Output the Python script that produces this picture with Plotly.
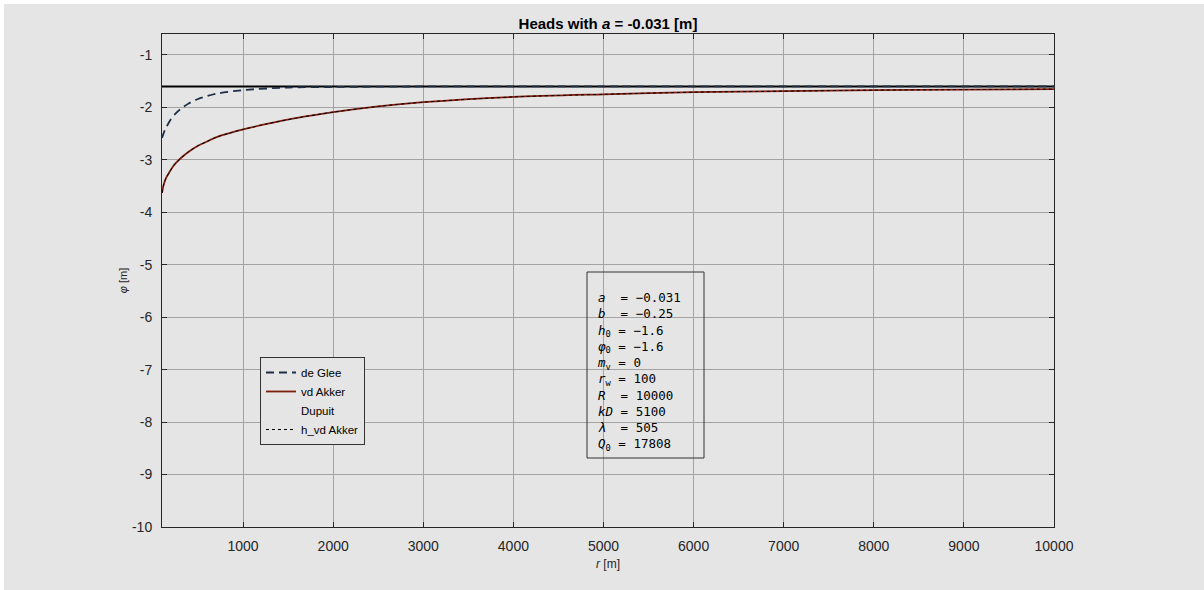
import plotly.graph_objects as go

# ---------------- data ----------------
r_glee = [100, 125, 150, 200, 250, 300, 400, 500, 700, 1000, 1500, 2000, 3000, 5000, 10000]
phi_glee = [-2.58, -2.46, -2.37, -2.22, -2.12, -2.04, -1.92, -1.84, -1.74, -1.67, -1.62, -1.61, -1.60, -1.60, -1.60]

r_akker = [100, 115, 130, 150, 180, 220, 260, 320, 400, 500, 600, 700, 850, 1000, 1250,
           1600, 2000, 2500, 3000, 4000, 5000, 6000, 7000, 8000, 9000, 10000]
phi_akker = [-3.63, -3.50, -3.41, -3.33, -3.24, -3.13, -3.05, -2.95, -2.84, -2.73, -2.65, -2.57, -2.49, -2.42, -2.32,
             -2.20, -2.09, -1.98, -1.90, -1.80, -1.75, -1.71, -1.69, -1.67, -1.66, -1.65]

r_h_akker = r_akker
phi_h_akker = phi_akker

r_h0 = [100, 10000]
phi_h0 = [-1.6, -1.6]

# Dupuit is drawn without a visible line in the reference
r_dupuit = [100, 10000]
phi_dupuit = [-1.6, -1.6]

x_ticks = [1000, 2000, 3000, 4000, 5000, 6000, 7000, 8000, 9000, 10000]
x_ticktext = ["1000", "2000", "3000", "4000", "5000", "6000", "7000", "8000", "9000", "10000"]
y_ticks = [-10, -9, -8, -7, -6, -5, -4, -3, -2, -1]
y_ticktext = ["-10", "-9", "-8", "-7", "-6", "-5", "-4", "-3", "-2", "-1"]

params = [
    ("<i>a</i>&nbsp;&nbsp;", "−0.031"),
    ("<i>b</i>&nbsp;&nbsp;", "−0.25"),
    ("<i>h</i><sub>0</sub>&nbsp;", "−1.6"),
    ("<i>φ</i><sub>0</sub>&nbsp;", "−1.6"),
    ("<i>m</i><sub>v</sub>&nbsp;", "0"),
    ("<i>r</i><sub>w</sub>&nbsp;", "100"),
    ("<i>R</i>&nbsp;&nbsp;", "10000"),
    ("<i>kD</i>&nbsp;", "5100"),
    ("<i>λ</i>&nbsp;&nbsp;", "505"),
    ("<i>Q</i><sub>0</sub>&nbsp;", "17808"),
]

BG = "#e5e5e5"
DARK = "#262626"

# plot-area pixel geometry
L, R, T, B = 162, 1054, 34, 527
W, H = 1204, 590
PW, PH = R - L, B - T


def px(x):
    return (x - L) / PW


def py(y):
    return (B - y) / PH


fig = go.Figure()

fig.add_trace(go.Scatter(x=r_h0, y=phi_h0, mode="lines", showlegend=False,
                         line=dict(color="black", width=2), hoverinfo="skip"))
fig.add_trace(go.Scatter(x=r_glee, y=phi_glee, mode="lines", name="de Glee",
                         line=dict(color="#1c2f45", width=1.8, dash="8px,5px", shape="spline", smoothing=0.8)))
fig.add_trace(go.Scatter(x=r_akker, y=phi_akker, mode="lines", name="vd Akker",
                         line=dict(color="#7f1d0d", width=1.8, shape="spline", smoothing=0.8)))
fig.add_trace(go.Scatter(x=r_dupuit, y=phi_dupuit, mode="lines", name="Dupuit",
                         line=dict(color="rgba(0,0,0,0)", width=1)))
fig.add_trace(go.Scatter(x=r_h_akker, y=phi_h_akker, mode="lines", name="h_vd Akker",
                         line=dict(color="black", width=1, dash="dot", shape="spline", smoothing=0.8)))

text = "<br>".join(f"{k}=&nbsp;{v}" for k, v in params)

fig.update_layout(
    width=W, height=H,
    margin=dict(l=L, r=W - R, t=T, b=H - B, pad=0),
    paper_bgcolor="white",
    plot_bgcolor=BG,
    font=dict(family="Liberation Sans, Arial, sans-serif", color=DARK, size=14),
    title=dict(text="<b>Heads with <i>a</i> = -0.031 [m]</b>", x=px((L + R) / 2), xanchor="center",
               xref="paper", y=1 - 24 / H, yanchor="middle",
               font=dict(size=15, color="black")),
    xaxis=dict(range=[100, 10000], tickvals=x_ticks, ticktext=x_ticktext, ticks="inside", ticklen=5,
               tickcolor=DARK, showline=True, linecolor=DARK, linewidth=1, mirror="ticks",
               showgrid=True, gridcolor="#a3a3a3", gridwidth=1, zeroline=False,
               ticklabelstandoff=6,
               title=dict(text="<i>r</i> [m]", font=dict(size=12), standoff=6)),
    yaxis=dict(range=[-10, -0.6], tickvals=y_ticks, ticktext=y_ticktext, ticks="inside", ticklen=5,
               tickcolor=DARK, showline=True, linecolor=DARK, linewidth=1, mirror="ticks",
               showgrid=True, gridcolor="#a3a3a3", gridwidth=1, zeroline=False,
               ticklabelstandoff=6,
               title=dict(text="<i>φ</i> [m]", font=dict(size=11), standoff=2)),
    legend=dict(x=px(260), y=py(357), xanchor="left", yanchor="top",
                bgcolor=BG, bordercolor="#333333", borderwidth=1,
                font=dict(size=11.5, color="black"), tracegroupgap=0),
    shapes=[
        dict(type="rect", xref="paper", yref="paper", x0=px(4), x1=px(1204), y0=py(590), y1=py(4),
             fillcolor=BG, line=dict(width=0), layer="below"),
        dict(type="rect", xref="paper", yref="paper", x0=px(587), x1=px(704), y0=py(458), y1=py(272),
             fillcolor="rgba(0,0,0,0)", line=dict(color="#333333", width=1), layer="above"),
    ],
    annotations=[
        dict(text=text, xref="paper", yref="paper", x=px(595), y=py(288), xanchor="left", yanchor="top",
             align="left", showarrow=False,
             font=dict(family="DejaVu Sans Mono, monospace", size=12.5, color="black")),
    ],
)

fig.write_html("out.html")
